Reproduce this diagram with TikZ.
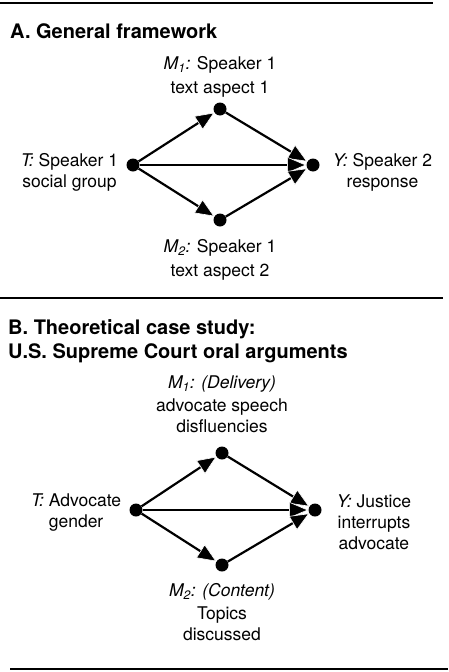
\documentclass[tikz,border=0pt]{standalone}
\usepackage{fontspec}
\setmainfont{TeX Gyre Heros}
\usetikzlibrary{arrows.meta}
\usetikzlibrary{positioning}
\tikzstyle{dot}=[
  circle,
  fill,
  inner sep=0pt,
  minimum size=13pt
]
\tikzstyle{lbl}=[
  align=center,
  inner sep=0pt,
  font=\fontsize{17.5}{21}\selectfont
]
\tikzstyle{head}=[
  align=left,
  inner sep=0pt,
  font=\fontsize{20}{24}\selectfont\bfseries
]
\tikzstyle{op}=[
  -{Triangle[length=19pt, width=16pt, fill=black, color=white, line width=0.6pt]},
  line width=2.2pt
]
\tikzstyle{rule}=[
  line width=2pt
]
\newcommand{\drawpaths}[1]{{
  \draw[op] (t#1) -- (m1#1);
  \draw[op] (t#1) -- (m2#1);
  \draw[op] (m1#1) -- (y#1);
  \draw[op] (t#1) -- (y#1);
  \draw[op] (m2#1) -- (y#1);
}}
\begin{document}
\begin{tikzpicture}[x=1pt, y=-1pt]
      \useasboundingbox (0,0) rectangle (448,672);

      \draw[rule] (0,3)    -- (433,3);
      \draw[rule] (0,298)  -- (443,298);
      \draw[rule] (10,669) -- (448,669);

      % panel A
      \node[head, anchor=base west] (titlea) at (10,38) {A. General framework};

      \node[dot] (ta)  at (133,165) {};
      \node[dot] (m1a) at (220,109) {};
      \node[dot] (m2a) at (220,220) {};
      \node[dot] (ya)  at (313,165) {};

      \node[lbl, left=8pt of ta, yshift=-7.5pt]   {\textit{T:} Speaker 1\\social group};
      \node[lbl, right=13pt of ya, yshift=-7.5pt] {\textit{Y:} Speaker 2\\response};
      \node[lbl, above=5pt of m1a]   {\textit{M\textsubscript{1}:} Speaker 1\\[3pt]text aspect 1};
      \node[lbl, below=12.5pt of m2a] {\textit{M\textsubscript{2}:} Speaker 1\\[3pt]text aspect 2};

      \drawpaths{a}

      % panel B
      \node[head, anchor=north west] (titleb) at (8,319)
        {B. Theoretical case study:\\U.S. Supreme Court oral arguments};

      \node[dot] (tb)  at (136,510) {};
      \node[dot] (m1b) at (222,453) {};
      \node[dot] (m2b) at (222,565) {};
      \node[dot] (yb)  at (315,510) {};

      \node[lbl, left=8pt of tb, yshift=-2.5pt]  {\textit{T:} Advocate\\gender};
      \node[lbl, right=15pt of yb, yshift=-12pt] {\textit{Y:} Justice\\interrupts\\advocate};
      \node[lbl, above=13.5pt of m1b]  {\textit{M\textsubscript{1}: (Delivery)}\\[2pt]advocate speech\\disfluencies};
      \node[lbl, below=11.5pt of m2b]  {\textit{M\textsubscript{2}: (Content)}\\[2pt]Topics\\discussed};

      \drawpaths{b}
    \end{tikzpicture}
\end{document}
